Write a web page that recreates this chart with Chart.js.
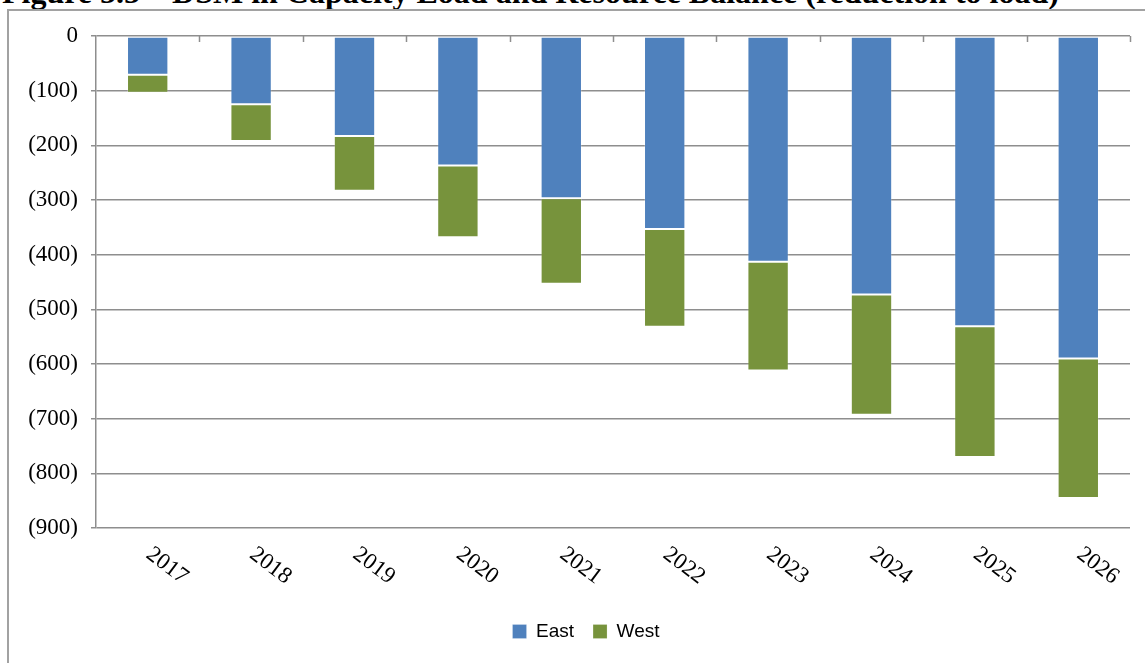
<!DOCTYPE html>
<html>
<head>
<meta charset="utf-8">
<script src="https://cdn.jsdelivr.net/npm/chart.js@4.4.1/dist/chart.umd.min.js"></script>
<style>
  html, body { margin: 0; padding: 0; background: #fff; overflow: hidden; }
  #page { position: relative; width: 1145px; height: 663px; overflow: hidden; }
  #caption {
    position: absolute; left: 2px; top: -24px;
    font: bold 32px "Times New Roman", "Liberation Serif", serif;
    line-height: 1; white-space: nowrap; color: #000;
  }
  #frame {
    position: absolute; left: 7px; top: 9px; width: 1160px; height: 680px;
    border: 2px solid #a2a2a2;
  }
  /* a little wider than the page so the legend sits centred on the frame */
  #wrap { position: absolute; left: 0; top: 0; width: 1150px; height: 663px; }
</style>
</head>
<body>
<div id="page">
  <div id="caption">Figure 5.5 – DSM in Capacity Load and Resource Balance (reduction to load)</div>
  <div id="frame"></div>
  <div id="wrap"><canvas id="chart"></canvas></div>
</div>
<script>
const years = ["2017", "2018", "2019", "2020", "2021", "2022", "2023", "2024", "2025", "2026"];
const east = [-71, -125, -183, -237, -297, -353, -413, -473, -531, -590];
const west = [-33, -67, -100, -131, -156, -179, -199, -220, -239, -255];
const yMin = -900;
const yStep = 100;

const serif = '"Times New Roman", "Liberation Serif", serif';

// Excel style: negative numbers in brackets
function bracketed(v) {
    return v === 0 ? "0" : "(" + Math.abs(v) + ")";
}

// tick marks hanging from the zero line and slanted year labels under the plot
const slantedAxis = {
    id: 'slantedAxis',
    afterDraw(chart) {
        const ctx = chart.ctx;
        const x = chart.scales.x;
        const y = chart.scales.y;
        const n = chart.data.labels.length;
        const w = x.width / n;
        const zero = y.getPixelForValue(0);

        ctx.save();
        ctx.strokeStyle = '#8e8e8e';
        ctx.lineWidth = 1.5;
        ctx.beginPath();
        for (let i = 1; i <= n; i++) {
            const px = Math.round(x.left + i * w) + 0.5;
            ctx.moveTo(px, zero);
            ctx.lineTo(px, zero + 6);
        }
        ctx.stroke();

        ctx.fillStyle = '#000';
        ctx.font = '23px ' + serif;
        ctx.textAlign = 'left';
        ctx.textBaseline = 'middle';
        chart.data.labels.forEach((label, i) => {
            const cx = x.getPixelForValue(i);
            ctx.save();
            ctx.translate(cx + 1, y.bottom + 24);
            ctx.rotate(37 * Math.PI / 180);
            ctx.fillText(label, 0, 0);
            ctx.restore();
        });
        ctx.restore();
    }
};

const ctx = document.querySelector('#chart').getContext('2d');
const chart = new Chart(ctx, {
    type: 'bar',
    data: {
        labels: years,
        datasets: [
            {
                label: "East",
                data: east,
                backgroundColor: "#4f81bd",
                borderColor: "rgba(255,255,255,0.2)",
                borderWidth: 1,
                borderSkipped: false,
            },
            {
                label: "West",
                data: west,
                backgroundColor: "#77933c",
                borderColor: "rgba(255,255,255,0.2)",
                borderWidth: 1,
                borderSkipped: false,
            }
        ]
    },
    options: {
        responsive: true,
        maintainAspectRatio: false,
        animation: false,
        layout: {
            padding: { top: 36, left: 22, right: 0, bottom: 12 }
        },
        datasets: {
            bar: {
                barPercentage: 0.4,
                categoryPercentage: 1.0,
            }
        },
        scales: {
            x: {
                stacked: true,
                grid: { display: false },
                border: { display: false },
                ticks: { display: false },
                afterFit(scale) { scale.height = 75; }
            },
            y: {
                stacked: true,
                min: yMin,
                max: 0,
                border: { display: true, color: '#8e8e8e', width: 1.5 },
                grid: {
                    color: '#8e8e8e',
                    lineWidth: 1.5,
                    tickLength: 5,
                },
                ticks: {
                    stepSize: yStep,
                    padding: 13,
                    color: '#000',
                    font: { family: serif, size: 23 },
                    callback: (v) => bracketed(v)
                },
                afterFit(scale) { scale.width = 74; }
            },
            // empty strip on the right that keeps the plot off the frame edge
            spacer: {
                type: 'linear',
                position: 'right',
                grid: { display: false },
                border: { display: false },
                ticks: { display: false },
                afterFit(scale) { scale.width = 20; }
            }
        },
        plugins: {
            legend: {
                position: 'bottom',
                labels: {
                    color: '#000',
                    boxWidth: 14,
                    boxHeight: 14,
                    padding: 19,
                    font: { family: '"Liberation Sans", sans-serif', size: 19 }
                }
            },
            tooltip: { enabled: false }
        }
    },
    plugins: [slantedAxis]
});
</script>
</body>
</html>
